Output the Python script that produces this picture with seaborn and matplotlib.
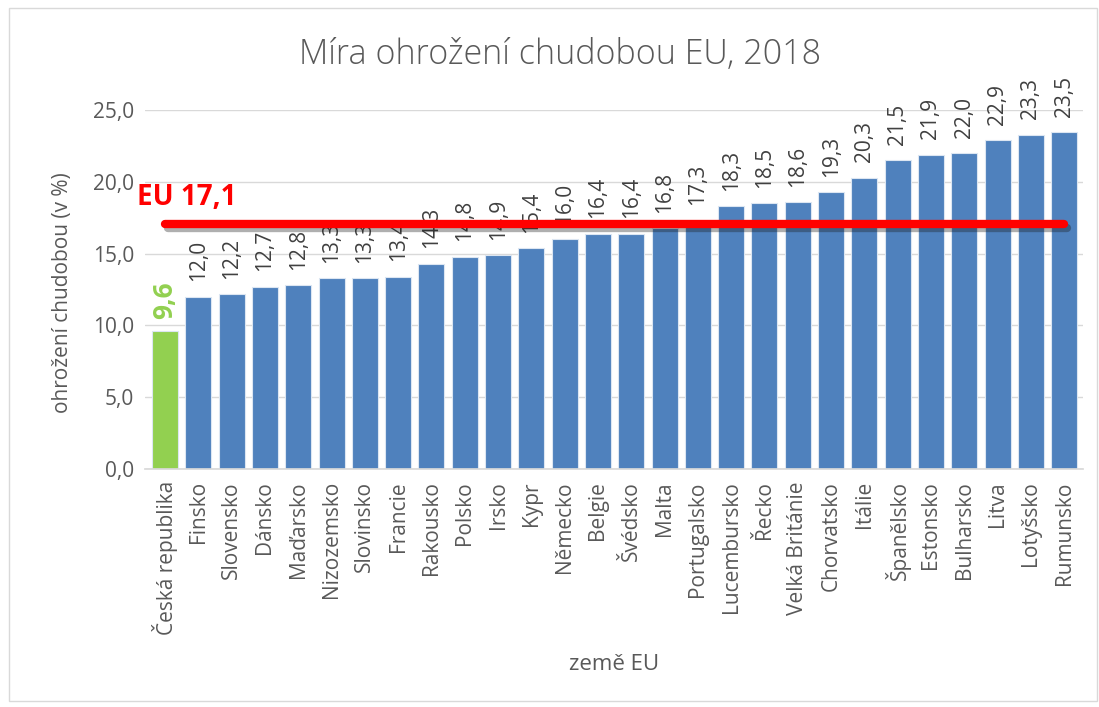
import matplotlib
matplotlib.use("Agg")
import matplotlib.pyplot as plt
import matplotlib.patheffects as pe
import seaborn as sns
import pandas as pd

countries = ["Česká republika", "Finsko", "Slovensko", "Dánsko", "Maďarsko", "Nizozemsko",
             "Slovinsko", "Francie", "Rakousko", "Polsko", "Irsko", "Kypr", "Německo", "Belgie",
             "Švédsko", "Malta", "Portugalsko", "Lucembursko", "Řecko", "Velká Británie",
             "Chorvatsko", "Itálie", "Španělsko", "Estonsko", "Bulharsko", "Litva", "Lotyšsko",
             "Rumunsko"]
rates = [9.6, 12.0, 12.2, 12.7, 12.8, 13.3, 13.3, 13.4, 14.3, 14.8, 14.9, 15.4, 16.0, 16.4,
         16.4, 16.8, 17.3, 18.3, 18.5, 18.6, 19.3, 20.3, 21.5, 21.9, 22.0, 22.9, 23.3, 23.5]
eu_avg = 17.1
highlight = "Česká republika"

blue = "#4F81BD"
green = "#92D050"
grey = "#595959"

sns.set_theme(style="white")
plt.rcParams["font.family"] = ["Open Sans", "DejaVu Sans"]

df = pd.DataFrame({"country": countries, "rate": rates})
palette = {c: (green if c == highlight else blue) for c in countries}

fig = plt.figure(figsize=(10.99, 7.07), dpi=100)
ax = fig.add_axes([0.132, 0.337, 0.853, 0.507])
sns.barplot(data=df, x="country", y="rate", hue="country", palette=palette,
            width=0.78, legend=False, ax=ax, saturation=1,
            edgecolor="#DCE6F2", linewidth=0.8)

ticks = [0, 5, 10, 15, 20, 25]
ax.set_ylim(0, 25)
ax.set_yticks(ticks)
ax.set_yticklabels([f"{v:.1f}".replace(".", ",") for v in ticks], fontsize=15, color=grey)
ax.set_xlim(-0.6, len(countries) - 0.45)
ax.tick_params(axis="x", labelrotation=90, labelsize=15, labelcolor=grey, length=0, pad=9)
ax.tick_params(axis="y", length=0, pad=8)
ax.grid(axis="y", color="#D9D9D9", linewidth=1)
ax.set_axisbelow(True)
for s in ["top", "right", "left"]:
    ax.spines[s].set_visible(False)
ax.spines["bottom"].set_color("#D9D9D9")

ax.set_xlabel("země EU", fontsize=16, color=grey)
ax.xaxis.set_label_coords(0.5, -0.545)
ax.xaxis.label.set_va("center")
ax.set_ylabel("ohrožení chudobou (v %)", fontsize=15, color=grey)
ax.yaxis.set_label_coords(-0.088, 0.49)
ax.yaxis.label.set_va("center")
fig.text(0.51, 0.922, "Míra ohrožení chudobou EU, 2018", fontsize=24.5, color=grey,
         ha="center", va="center", fontweight="light")

# value labels
for i, (c, v) in enumerate(zip(countries, rates)):
    txt = f"{v:.1f}".replace(".", ",")
    if c == highlight:
        ax.annotate(txt, (i, v), xytext=(0, 9), textcoords="offset points", rotation=90,
                    ha="center", va="bottom", fontsize=19, fontweight="bold", color=green,
                    annotation_clip=False)
    else:
        ax.annotate(txt, (i, v), xytext=(0, 11), textcoords="offset points", rotation=90,
                    ha="center", va="bottom", fontsize=15, color="#404040",
                    annotation_clip=False)

# EU average line
ax.plot([0, len(countries) - 1.0], [eu_avg, eu_avg], color="#FF0000", linewidth=6,
        solid_capstyle="round", zorder=5,
        path_effects=[pe.SimpleLineShadow(offset=(2, -3), alpha=0.35), pe.Normal()])
ax.text(-0.85, eu_avg + 1.3, f"EU {eu_avg:.1f}".replace(".", ","), fontsize=20,
        fontweight="bold", color="#FF0000", ha="left", va="baseline")

# light border around the figure
fig.patches.append(plt.Rectangle((0.008, 0.008), 0.99, 0.98, transform=fig.transFigure,
                                 fill=False, edgecolor="#D9D9D9", linewidth=1))

fig.savefig("out.png", dpi=100)
